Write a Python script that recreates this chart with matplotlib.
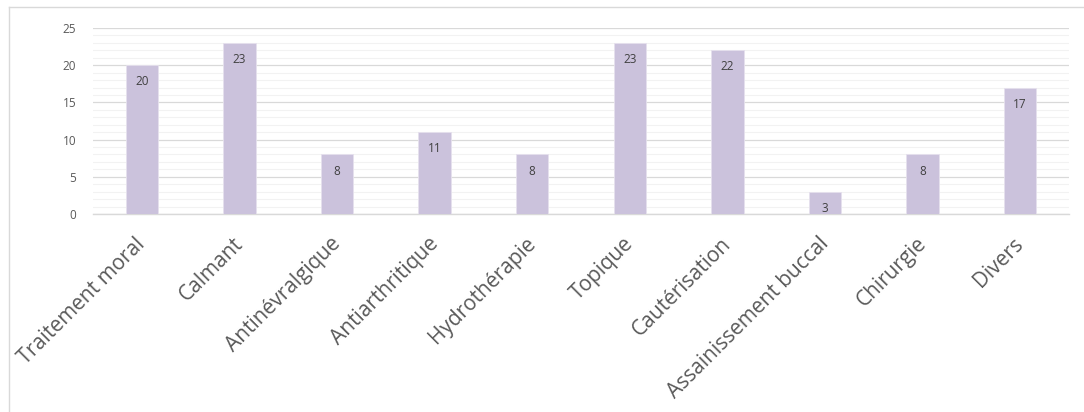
import matplotlib
matplotlib.use("Agg")
import matplotlib.pyplot as plt
from matplotlib.lines import Line2D
from matplotlib.ticker import MultipleLocator
from matplotlib.transforms import ScaledTranslation

categories = ["Traitement moral", "Calmant", "Antinévralgique", "Antiarthritique",
              "Hydrothérapie", "Topique", "Cautérisation", "Assainissement buccal",
              "Chirurgie", "Divers"]
values = [20, 23, 8, 11, 8, 23, 22, 3, 8, 17]
yticks = [0, 5, 10, 15, 20, 25]

plt.rcParams['font.family'] = ['Open Sans', 'DejaVu Sans']

fig = plt.figure(figsize=(10.84, 4.12), dpi=100)
# chart frame (only top and left edges visible in the crop)
fig.lines.append(Line2D([9/1084, 9/1084], [0, 1-7/412], transform=fig.transFigure,
                        color='#d9d9d9', linewidth=1.0))
fig.lines.append(Line2D([9/1084, 1], [1-7/412, 1-7/412], transform=fig.transFigure,
                        color='#d9d9d9', linewidth=1.0))
ax = fig.add_axes([93/1084, 1-214/412, 976/1084, 186/412])

x = list(range(len(categories)))
ax.bar(x, values, width=0.33, color='#cbc2dc', edgecolor='#e6e1ee', linewidth=0.6, zorder=3)
for xi, v in zip(x, values):
    ax.annotate(str(v), (xi, v), xytext=(0, -12), textcoords='offset points',
                ha='center', va='center', fontsize=8.5, color='#404040', zorder=4)

ax.set_xlim(-0.5, len(categories) - 0.5)
ax.set_ylim(0, 25)
ax.set_yticks(yticks)
ax.yaxis.set_minor_locator(MultipleLocator(1))
ax.grid(which='major', axis='y', color='#d9d9d9', linewidth=0.9, zorder=0)
ax.grid(which='minor', axis='y', color='#f2f2f2', linewidth=0.8, zorder=0)
ax.tick_params(axis='y', which='both', length=0, labelsize=8.5, labelcolor='#595959', pad=12)
ax.set_xticks(x)
ax.set_xticklabels(categories, rotation=45, ha='right', va='top', rotation_mode='anchor',
                   fontsize=15, color='#595959')
ax.tick_params(axis='x', length=0, pad=14)
shift = ScaledTranslation(-7/100, 0, fig.dpi_scale_trans)
for lab in ax.get_xticklabels():
    lab.set_transform(lab.get_transform() + shift)
for s in ['top', 'right', 'left']:
    ax.spines[s].set_visible(False)
ax.spines['bottom'].set_color('#d9d9d9')
ax.spines['bottom'].set_linewidth(1.0)

fig.savefig("out.png", dpi=100)
